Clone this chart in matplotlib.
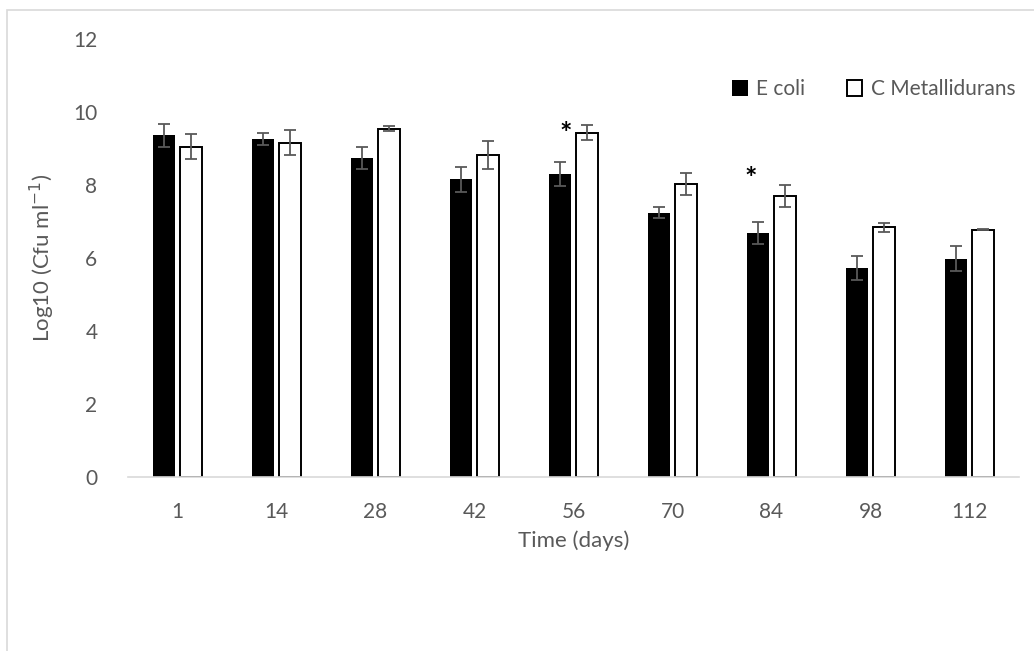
import matplotlib.pyplot as plt
import numpy as np
from matplotlib.patches import Rectangle

plt.rcParams['font.family'] = ['Lato', 'DejaVu Sans']

days = ['1', '14', '28', '42', '56', '70', '84', '98', '112']
ecoli = [9.37, 9.26, 8.75, 8.16, 8.31, 7.25, 6.69, 5.73, 5.98]
ecoli_err = [0.32, 0.17, 0.31, 0.35, 0.33, 0.15, 0.31, 0.34, 0.34]
cmet = [9.06, 9.17, 9.55, 8.82, 9.44, 8.03, 7.71, 6.85, 6.78]
cmet_err = [0.34, 0.34, 0.07, 0.38, 0.20, 0.30, 0.30, 0.12, 0.02]

# significance marks: (category index, x offset, height)
stars = [(4, -0.08, 9.40), (6, -0.21, 8.17)]

grey = '#595959'

fig = plt.figure(figsize=(10.34, 6.51), dpi=100)
ax = fig.add_axes([0.1238, 0.2673, 0.8617, 0.6723])

x = np.arange(len(days))
w = 0.22
off = 0.14
err_kw = dict(ecolor=grey, elinewidth=1.3, capsize=4.5, capthick=1.3)

ax.bar(x - off, ecoli, w, color='black', yerr=ecoli_err, error_kw=err_kw, label='E coli')
ax.bar(x + off, cmet, w, color='white', edgecolor='black', linewidth=1.4,
       yerr=cmet_err, error_kw=err_kw, label='C Metallidurans')

for i, dx, h in stars:
    ax.text(x[i] + dx, h, '*', ha='center', va='center', fontsize=21, fontweight='bold', color='black')

ax.set_xlim(-0.5, len(days) - 0.5)
ax.set_ylim(0, 12)
ax.set_yticks(range(0, 13, 2))
ax.set_xticks(x, labels=days)
ax.tick_params(axis='both', length=0, labelsize=15, labelcolor=grey)
ax.tick_params(axis='y', pad=22)
ax.tick_params(axis='x', pad=18)

for s in ['top', 'right', 'left']:
    ax.spines[s].set_visible(False)
ax.spines['bottom'].set_color('#d9d9d9')
ax.spines['bottom'].set_linewidth(1.2)

ax.set_xlabel('Time (days)', fontsize=16, color=grey, labelpad=6)
ax.set_ylabel('Log10 (Cfu ml$^{\\mathrm{-1}}$)', fontsize=16, color=grey, labelpad=12)

leg = ax.legend(loc='center right', bbox_to_anchor=(0.99, 0.863), bbox_transform=fig.transFigure,
                ncol=2, frameon=False, fontsize=15, handlelength=0.75, handleheight=0.75,
                handletextpad=0.4, columnspacing=2.0, borderaxespad=0)
for t in leg.get_texts():
    t.set_color(grey)

# chart border
fig.add_artist(Rectangle((7 / 1034, -0.1), 1.2, 1.1 - 10 / 651, transform=fig.transFigure,
                         fill=False, edgecolor='#d9d9d9', linewidth=1.2))

fig.savefig('out.png', dpi=100)
